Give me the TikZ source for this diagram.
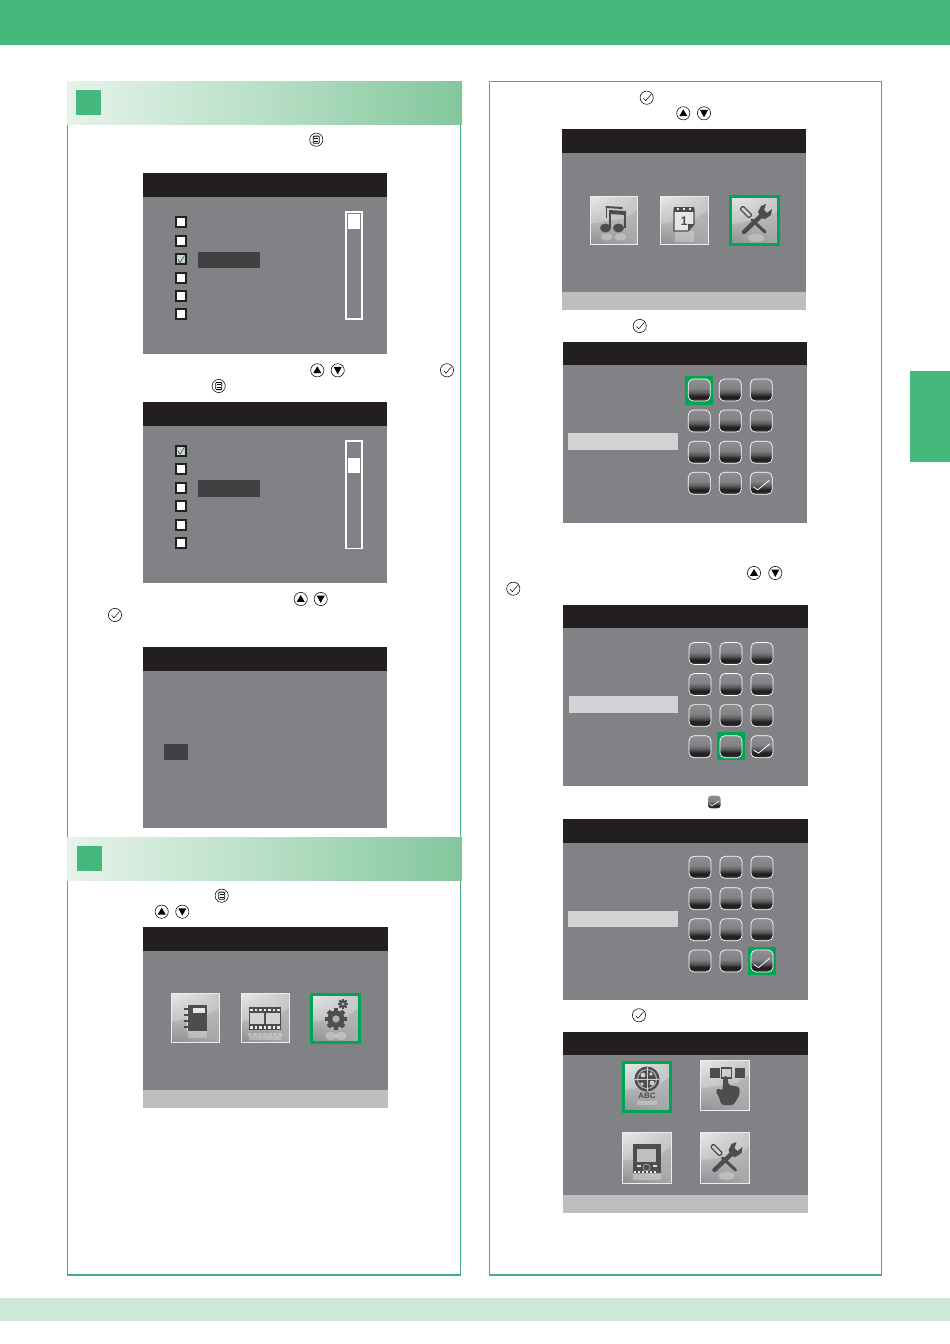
\documentclass[tikz,border=0pt]{standalone}
\usepackage{fontspec}
\setmainfont{Liberation Sans}
\usetikzlibrary{calc,shadings}
\definecolor{topgreen}{HTML}{45B97C}
\definecolor{framegreen}{HTML}{45B084}
\definecolor{barlight}{HTML}{CEE7D6}
\definecolor{headL}{HTML}{E6F3EB}
\definecolor{headM}{HTML}{B8DFC6}
\definecolor{headR}{HTML}{82C79C}
\definecolor{scr}{HTML}{808285}
\definecolor{scrhead}{HTML}{231F20}
\definecolor{scrfoot}{HTML}{BCBEC0}
\definecolor{darkbar}{HTML}{414042}
\definecolor{inputbar}{HTML}{D1D3D4}
\definecolor{selgreen}{HTML}{00A651}
\definecolor{gly}{HTML}{4D4D4F}
\pgfdeclareverticalshading{keyshade}{100bp}{
  color(0bp)=(gly); color(25bp)=(gly); color(31bp)=(scrhead); color(36bp)=(scrhead);
  color(45bp)=(gly!90!white); color(50bp)=(gly!30!scr); color(53bp)=(scr); color(75bp)=(scr!90!white); color(100bp)=(scr!90!white)}
\pgfdeclarehorizontalshading{headshade}{100bp}{
  color(0bp)=(headL); color(25bp)=(headL); color(50bp)=(headM); color(75bp)=(headR); color(100bp)=(headR)}
\tikzset{
  panelframe/.style={draw=framegreen,line width=1.1pt,fill=white},
  sym/.style={draw=black,line width=0.55pt,fill=white},
  reflect/.style={fill=white,opacity=0.28}
}
% --- screen: x1 x2 top headbottom bottom
\newcommand{\screenbox}[5]{%
  \fill[scr] (#1,#3) rectangle (#2,#5);
  \fill[scrhead] (#1,#3) rectangle (#2,#4);}
\newcommand{\screenfoot}[4]{\fill[scrfoot] (#1,#3) rectangle (#2,#4);}
% --- header band
\newcommand{\headband}[4]{%
  \shade[shading=headshade] (#1,#2) rectangle (462,#3);
  \fill[topgreen] (#4,#2+8.5) rectangle ++(25,25);}
% --- round symbols
\newcommand{\symup}[2]{\begin{scope}[shift={(#1,#2)}]
  \draw[sym] (0,0) circle (6.6);
  \fill[black] (-4,2.8) -- (4,2.8) -- (0,-4) -- cycle;\end{scope}}
\newcommand{\symdown}[2]{\begin{scope}[shift={(#1,#2)}]
  \draw[sym] (0,0) circle (6.6);
  \fill[black] (-4,-3.4) -- (4,-3.4) -- (0,4) -- cycle;\end{scope}}
\newcommand{\symcheck}[2]{\begin{scope}[shift={(#1,#2)}]
  \draw[sym] (0,0) circle (6.6);
  \draw[black,line width=0.5pt] (-3.2,0.4) -- (-1,3) -- (4.4,-3.4);\end{scope}}
\newcommand{\symmenu}[2]{\begin{scope}[shift={(#1,#2)}]
  \draw[sym] (0,0) circle (6.6);
  \draw[black,line width=0.8pt,rounded corners=0.8pt] (-3,-3.6) rectangle (3,3.6);
  \draw[black,line width=0.8pt] (-2,-1.2) -- (2,-1.2) (-2,1.2) -- (2,1.2);\end{scope}}
% --- list screen items
\newcommand{\chk}[2]{\draw[scrhead,line width=2.2pt,fill=white] (#1-5,#2-5) rectangle (#1+5,#2+5);}
\newcommand{\chkon}[2]{\draw[scrhead,line width=2.2pt,fill=inputbar] (#1-5,#2-5) rectangle (#1+5,#2+5);
  \draw[selgreen!70!black,line width=0.6pt] (#1-3,#2+0.5) -- (#1-1,#2+3.5) -- (#1+3.5,#2-3.5);}
\newcommand{\scrollbar}[4]{%
  \draw[white,line width=1.8pt] (346.2,#1) rectangle (361.8,#2);
  \fill[white] (347.7,#3) rectangle (359.7,#4);}
% --- keypad button
\newcommand{\keybtn}[2]{%
  \shade[shading=keyshade,rounded corners=5pt] (#1-11,#2-11) rectangle (#1+11,#2+11);
  \draw[white,line width=0.7pt,rounded corners=5pt] (#1-11,#2-11) rectangle (#1+11,#2+11);}
\newcommand{\keytick}[2]{\draw[white,line width=0.8pt] (#1-8,#2+3.5) -- (#1-3.5,#2+6.5) -- (#1+8,#2-3);}
\newcommand{\keypad}[5]{%
  \foreach \kx in {0,31,62}{
    \foreach \ky in {#2,#3,#4,#5}{ \keybtn{#1+\kx}{\ky} }}
  \keytick{#1+62}{#5}}
\newcommand{\selbox}[4]{\fill[selgreen] (#1,#2) rectangle (#3,#4);}
% --- icon base; x1 y1 x2 y2
\newcommand{\iconbase}[4]{%
  \shade[upper left=white!78!scr,upper right=white!45!scr,lower left=white!10!scr,lower right=white!30!scr]
     (#1,#2) rectangle (#3,#4);
  \fill[white,opacity=0.22] (#1,#2) -- (#3,#2) -- (#3,#2+14) -- (#3-12,#2+22) -- (#1,#2+28) -- cycle;
  \draw[white!85!scr,line width=0.7pt] (#1,#2) rectangle (#3,#4);}
\newcommand{\iconsel}[4]{%
  \iconbase{#1}{#2}{#3}{#4}
  \draw[selgreen,line width=3pt] (#1,#2) rectangle (#3,#4);}
% --- glyphs, centred at x,y
\newcommand{\gltools}[2]{\begin{scope}[shift={(#1,#2)}]
  \fill[reflect] (2,18) ellipse (8 and 4);
  \draw[gly,line width=3pt,line cap=round] (-2,0) -- (11,12);
  \draw[gly,line width=1.2pt,rounded corners=1pt,fill=white!65!scr] (-14,-11) -- (-11,-14) -- (-2,-5) -- (-5,-2) -- cycle;
  \draw[gly,line width=4.5pt,line cap=round] (-10,12) -- (9,-6);
  \fill[gly] (4,-8) -- (7,-14) -- (12,-16) -- (10,-10) -- (13,-7) -- (18,-11) -- (17,-5) -- (11,-1) -- (7,-2) -- cycle;
  \end{scope}}
\newcommand{\glnotes}[2]{\begin{scope}[shift={(#1,#2)}]
  \fill[reflect] (-7,17) ellipse (6 and 3.5);\fill[reflect] (7,17) ellipse (6 and 3.5);
  \fill[gly] (-8,8) ellipse (5.5 and 4.5); \fill[gly] (5,8) ellipse (5.5 and 4.5);
  \fill[gly] (-4.5,-9) rectangle (-2.5,8);
  \fill[gly] (10,-8) rectangle (12.5,8);
  \fill[gly] (-4.5,-10) -- (12.5,-9) -- (12.5,-5) -- (-4.5,-6) -- cycle;
  \fill[gly] (-8,-13) rectangle (-6.6,-2);
  \fill[gly] (-8,-14) -- (9,-13) -- (9,-11) -- (-8,-12) -- cycle;
  \end{scope}}
\newcommand{\glcal}[2]{\begin{scope}[shift={(#1,#2)}]
  \fill[reflect] (-9,11) rectangle (10,22);
  \fill[white!80!scr] (-10,-11) -- (10,-11) -- (10,4) -- (4,11) -- (-10,11) -- cycle;
  \draw[gly,line width=1.2pt,line join=round] (-10,-11) -- (10,-11) -- (10,4) -- (4,11) -- (-10,11) -- cycle;
  \fill[gly] (4,11) -- (4,4) -- (10,4) -- cycle;
  \fill[gly] (-10,-13) rectangle (10,-8);
  \foreach \q in {-6,0,6}{\fill[white!85!scr] (\q-0.8,-12.5) rectangle (\q+0.8,-10);}
  \node[font=\bfseries,text=gly,inner sep=0pt,scale=1.25] (calday) at (0,1) {1};
  \end{scope}}
\newcommand{\glbook}[2]{\begin{scope}[shift={(#1,#2)}]
  \fill[reflect] (-7,13) rectangle (12,20);
  \fill[gly] (-8,-13) rectangle (12,13);
  \fill[white!80!scr] (-2,-10) rectangle (10,-5);
  \fill[white!80!scr] (-8,-13) rectangle (-6.8,13);
  \foreach \q in {-9,-3,3,9}{\fill[gly] (-11,\q-1) rectangle (-6,\q+1);}
  \end{scope}}
\newcommand{\glfilm}[2]{\begin{scope}[shift={(#1,#2)}]
  \foreach \q in {-15,-10,...,15}{\fill[white,opacity=0.3] (\q-1.6,14.5) rectangle (\q+1.6,17.5);}
  \fill[reflect] (-16,18) rectangle (16,22);
  \fill[gly] (-16,-11) rectangle (16,12);
  \fill[white!65!scr] (-15,-5) rectangle (-0.8,6);
  \fill[white!65!scr] (0.8,-5) rectangle (15,6);
  \foreach \q in {-13.5,-9,-4.5,0,4.5,9,13.5}{
    \fill[white!85!scr] (\q-1.3,-9.5) rectangle (\q+1.3,-7);
    \fill[white!85!scr] (\q-1.3,8) rectangle (\q+1.3,10.5);}
  \end{scope}}
\newcommand{\cog}[4]{% x y radius hole
  \begin{scope}[shift={(#1,#2)}]
  \foreach \a in {0,45,...,315}{\fill[gly,rotate=\a] (-0.24*#3,-#3*1.28) rectangle (0.24*#3,#3*1.28);}
  \fill[gly] (0,0) circle (#3);
  \fill[white!35!scr] (0,0) circle (#4);
  \end{scope}}
\newcommand{\glgears}[2]{\begin{scope}[shift={(#1,#2)}]
  \fill[reflect] (-4,18) ellipse (6 and 4);\fill[reflect] (6,18) ellipse (6 and 4);
  \cog{1}{1}{8.5}{3.6}
  \cog{8}{-14}{3.8}{1.7}
  \end{scope}}
\newcommand{\glglobe}[2]{\begin{scope}[shift={(#1,#2)}]
  \fill[gly] (0,-8) circle (12.5);
  \draw[white!60!scr,line width=0.8pt] (0,-8) circle (9.5);
  \draw[white!60!scr,line width=0.8pt] (-12,-8) -- (12,-8) (0,-20) -- (0,4);
  \fill[white!60!scr] (-4,-12) circle (2.4) (5,-4) circle (2.4) (4,-13) circle (1.8) (-5,-3) circle (1.8);
  \node[font=\bfseries\fontsize{8}{8}\selectfont,text=gly,inner sep=0pt] (abc) at (0,9) {ABC};
  \fill[reflect] (-10,13.5) rectangle (10,18);
  \end{scope}}
\newcommand{\glhand}[2]{\begin{scope}[shift={(#1,#2)}]
  \fill[gly] (-15,-18) rectangle (-5,-8);
  \fill[gly] (10,-18) rectangle (20,-8);
  \draw[gly,line width=1.2pt] (-3,-18) rectangle (7,-8);
  \fill[gly,rounded corners=2.5pt] (-1,-10) -- (3,-10) -- (4,-1) -- (15,1) -- (15,9) -- (9,19) -- (-3,19) -- (-6,10) -- (-9,5) -- (-6,2) -- (-2,5) -- cycle;
  \end{scope}}
\newcommand{\glpanel}[2]{\begin{scope}[shift={(#1,#2)}]
  \fill[gly] (-14,-14) rectangle (14,15);
  \fill[inputbar!75!scr] (-9.5,-9.5) rectangle (9.5,4);
  \draw[inputbar] (0,9.5) circle (3.5);
  \foreach \q in {-11.5,-7.5,...,12}{\fill[white!80!scr] (\q-1,13) rectangle (\q+1,15);}
  \fill[white!70!scr] (-10,7) rectangle (-6,9); \fill[white!70!scr] (6,7) rectangle (10,9);
  \fill[reflect] (-14,16) rectangle (14,22);
  \end{scope}}
\begin{document}
\begin{tikzpicture}[x=1pt,y=-1pt]
\useasboundingbox (0,0) rectangle (950,1344);
\fill[white] (0,0) rectangle (950,1344);
% page furniture
\fill[topgreen] (0,0) rectangle (950,45);
\fill[barlight] (0,1298) rectangle (950,1321);
\fill[topgreen] (910,371) rectangle (950,462);
% panels
\draw[panelframe] (67.5,100) rectangle (460.5,1275);
\draw[panelframe] (489.5,81.5) rectangle (881.5,1275);
\headband{67}{81.7}{124}{76}
\headband{67}{837}{880}{77.3}

% left symbols
\symmenu{316.3}{139.7}
\symup{317.3}{370.3}\symdown{337.7}{370.3}\symcheck{447}{370.3}\symmenu{218.7}{386}
\symup{300.7}{599}\symdown{320.7}{599}\symcheck{115}{615}
\symmenu{221.7}{895.7}\symup{161.7}{911.7}\symdown{182.3}{911.7}

% screen 1
\screenbox{142.5}{387}{173}{197}{354}
\chk{181}{221.7}\chk{181}{240.7}\chkon{181}{259}\chk{181}{277.7}\chk{181}{296}\chk{181}{314}
\fill[darkbar] (197.7,251.7) rectangle (260.3,268);
\scrollbar{212}{319}{213.5}{229}
% screen 2
\screenbox{142.5}{387}{402}{426}{583}
\chkon{181}{450.7}\chk{181}{469.3}\chk{181}{488}\chk{181}{506}\chk{181}{525}\chk{181}{543}
\fill[darkbar] (197.7,480.2) rectangle (260.3,496.5);
\scrollbar{441}{548.4}{457.7}{473}
% screen 3
\screenbox{142.5}{387}{647}{671}{828}
\fill[darkbar] (164,744) rectangle (188.3,760);
% screen 4
\screenbox{143}{387.5}{927}{951}{1107.7}
\screenfoot{143}{387.5}{1090}{1107.7}
\iconbase{171}{993.7}{219}{1042}\glbook{195}{1018}
\iconbase{241.3}{993.7}{289}{1042}\glfilm{265}{1018}
\iconsel{311.5}{994}{359}{1042}\glgears{335}{1018}

% right symbols
\symcheck{646.7}{97.7}\symup{683.3}{113.3}\symdown{704}{113.3}
\symcheck{639.7}{326}
\symup{754}{573}\symdown{775.3}{573}\symcheck{513.3}{588.7}
\symcheck{639}{1015.3}
\shade[shading=keyshade,rounded corners=3pt] (708,795.7) rectangle (720.6,808.3);
\draw[white,line width=0.6pt] (709.5,804) -- (712,806) -- (719,801);

% screen 5
\screenbox{561.7}{806}{129.3}{153}{310}
\screenfoot{561.7}{806}{291.7}{310}
\iconbase{590}{196}{637}{244}\glnotes{613.5}{220}
\iconbase{660.3}{196}{708}{244}\glcal{684}{220}
\iconsel{730}{196.2}{778}{244}\gltools{754}{220}

% screen 6
\screenbox{563}{807}{341.7}{365}{523}
\fill[inputbar] (568,433) rectangle (678,450);
\selbox{685}{376}{713}{404.5}
\keypad{699.3}{390}{421}{452.3}{483.3}
% screen 7
\screenbox{563.3}{807.7}{605}{628}{785.5}
\fill[inputbar] (568.5,696) rectangle (678,713);
\selbox{717.3}{732.3}{745}{760}
\keypad{700}{653.5}{684.5}{715.6}{746.7}
% screen 8
\screenbox{563.3}{807.7}{819}{842.7}{1000}
\fill[inputbar] (568.3,910.7) rectangle (678,927.3);
\selbox{747.7}{946.7}{776}{975}
\keypad{700}{867.3}{898.7}{929.7}{961}
% screen 9
\screenbox{563.3}{808}{1031.7}{1055}{1212.7}
\screenfoot{563.3}{808}{1195}{1212.7}
\iconsel{623.3}{1062.3}{670.7}{1111.4}\glglobe{647}{1087}
\iconbase{700}{1060.7}{749}{1110.7}\glhand{724.5}{1086}
\iconbase{622}{1132.7}{671}{1183}\glpanel{646.5}{1158}
\iconbase{700}{1132.7}{749}{1183}\gltools{724.5}{1158}
\end{tikzpicture}
\end{document}
